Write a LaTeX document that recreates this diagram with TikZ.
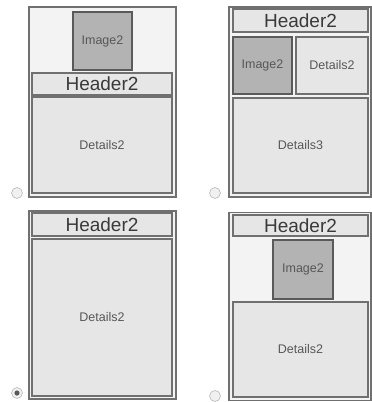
\documentclass[tikz,border=0pt]{standalone}
\usepackage{fontspec}
\setmainfont{Liberation Sans}
\definecolor{edge}{HTML}{707070}
\definecolor{paper}{HTML}{F3F3F3}
\definecolor{boxfill}{HTML}{E6E6E6}
\definecolor{imgfill}{HTML}{B3B3B3}
\definecolor{ink}{HTML}{3A3A3A}
\begin{document}
\begin{tikzpicture}[x=1pt,y=-1pt,
  frame/.style={draw=edge, line width=1.4pt, fill=paper, inner sep=0pt},
  hdr/.style={draw=edge, line width=1.1pt, fill=boxfill, inner sep=0pt, text=ink, font=\fontsize{19}{19}\selectfont},
  detail/.style={draw=edge, line width=1.1pt, fill=boxfill, inner sep=0pt, text=ink!85, font=\fontsize{12.5}{13}\selectfont},
  img/.style={draw=edge!80!black, line width=1.1pt, fill=imgfill, inner sep=0pt, text=ink!85, font=\fontsize{12.5}{13}\selectfont},
  radio/.style={circle, draw=gray!55, line width=0.6pt, fill=gray!12, minimum size=11pt, inner sep=0pt}]
\useasboundingbox (0,0) rectangle (372,402);
% Layout A: image above header
\node[frame, minimum width=147, minimum height=190] (fa) at (102.5,102) {};
\node[img, minimum width=59, minimum height=58] (imga) at (102.5,41) {Image2};
\node[hdr, minimum width=140, minimum height=22] (hdra) at (102,84) {Header2};
\node[detail, minimum width=140, minimum height=96] (deta) at (102,145) {Details2};
\node[radio] (ra) at (17,193) {};
% Layout B: header, image beside details
\node[frame, minimum width=142, minimum height=190] (fb) at (300,102) {};
\node[hdr, minimum width=135, minimum height=23] (hdrb) at (300.5,20.5) {Header2};
\node[img, minimum width=59, minimum height=57] (imgb) at (262.5,65.5) {Image2};
\node[detail, minimum width=72, minimum height=57] (detb) at (332,65.5) {Details2};
\node[detail, minimum width=135, minimum height=95] (detc) at (300.5,145.5) {Details3};
\node[radio] (rb) at (215,193) {};
% Layout C: header and details only
\node[frame, minimum width=147, minimum height=188] (fc) at (102.5,305) {};
\node[hdr, minimum width=140, minimum height=23] (hdrc) at (102,224.5) {Header2};
\node[detail, minimum width=140, minimum height=157] (detd) at (102,317.5) {Details2};
\node[radio] (rc) at (17,393) {};
\fill[gray!70!black] (rc) circle (2.6);
% Layout D: header, image, details
\node[frame, minimum width=142, minimum height=188] (fd) at (300,306.5) {};
\node[hdr, minimum width=135, minimum height=21] (hdrd) at (300.5,225.5) {Header2};
\node[img, minimum width=60, minimum height=59] (imgd) at (303,269.5) {Image2};
\node[detail, minimum width=135, minimum height=95] (dete) at (300.5,349.5) {Details2};
\node[radio] (rd) at (215,396) {};
\end{tikzpicture}
\end{document}
